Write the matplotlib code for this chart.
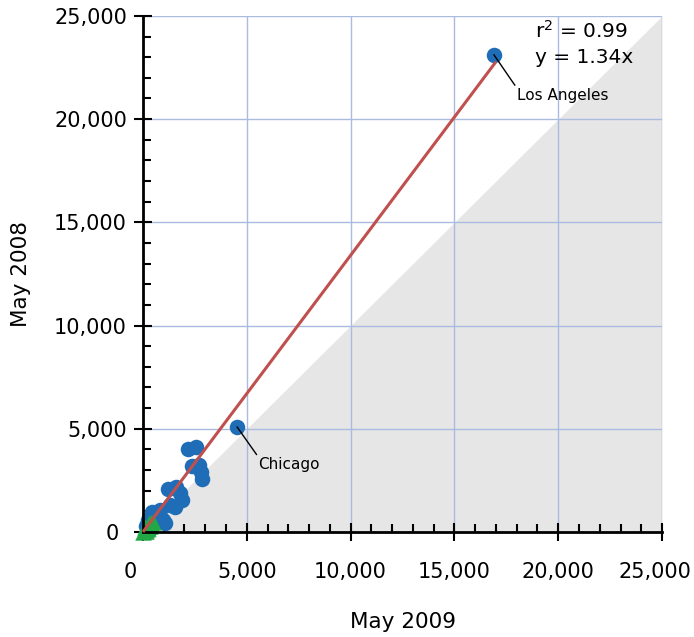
import numpy as np
import matplotlib as mpl
mpl.use('Agg')
from matplotlib import pyplot as plt
from matplotlib.ticker import FuncFormatter, MultipleLocator
import matplotlib.transforms as mtransforms

plt.rcParams['font.family'] = ['DejaVu Sans']

# data (May 2009 vs May 2008)
blue_x = [16900, 4530, 2170, 2550, 2360, 2700, 2800, 2840, 1200, 1590, 1880, 1780,
          430, 820, 1300, 1540, 240, 720, 1060, 150, 600, 950, 350]
blue_y = [23120, 5090, 4030, 4120, 3200, 3250, 2900, 2570, 2080, 2180, 1550, 1890,
          970, 1070, 1310, 1210, 580, 680, 440, 300, 820, 560, 150]
green_x = [0, 80, 150, 250, 320, 400, 480, 200, 120, 350, 60, 280]
green_y = [0, 100, 60, 200, 330, 420, 480, 120, 240, 300, 40, 430]
slope = 1.34
r2 = 0.99
fit_end = 17000
labels = {'Los Angeles': (16900, 23120), 'Chicago': (4530, 5090)}

fig = plt.figure(figsize=(6.94, 6.37), dpi=100)
ax = fig.add_axes([0.206, 0.165, 0.748, 0.810])

# gray area below y = x
ax.fill_between([0, 25000], [0, 25000], 0, color='#e6e6e6', lw=0, zorder=0.2)

ax.scatter(blue_x, blue_y, marker='o', s=125, color='#1f6db6', lw=0, zorder=2, clip_on=False)
ax.scatter(green_x, green_y, marker='^', s=140, color='#22a845', lw=0, zorder=2.5, clip_on=False)
ax.plot([0, fit_end], [0, slope * fit_end], color='#c0504d', lw=2.2, zorder=3,
        solid_capstyle='butt', clip_on=False)

for name, off in [('Los Angeles', (16.5, -24)), ('Chicago', (15.5, -22))]:
    ax.annotate(name, xy=labels[name], xytext=off, textcoords='offset points',
                fontsize=11, ha='left', va='top',
                arrowprops=dict(arrowstyle='-', color='black', lw=1, shrinkA=0, shrinkB=0, relpos=(0, 1)))

ax.text(0.755, 0.971, 'r$^2$ = {0:.2f}'.format(r2), transform=ax.transAxes, fontsize=14.5, va='center')
ax.text(0.755, 0.920, 'y = {0:.2f}x'.format(slope), transform=ax.transAxes, fontsize=14.5, va='center')

ax.set_xlim(0, 25000)
ax.set_ylim(0, 25000)
ax.xaxis.set_major_locator(MultipleLocator(5000))
ax.yaxis.set_major_locator(MultipleLocator(5000))
ax.xaxis.set_minor_locator(MultipleLocator(1000))
ax.yaxis.set_minor_locator(MultipleLocator(1000))
fmt = FuncFormatter(lambda v, p: '{0:,.0f}'.format(v))
ax.xaxis.set_major_formatter(fmt)
ax.yaxis.set_major_formatter(fmt)

ax.set_axisbelow(True)
ax.grid(True, which='major', color='#aabbe0', lw=1)
for s in ['top', 'right']:
    ax.spines[s].set_visible(False)
for s in ['left', 'bottom']:
    ax.spines[s].set_linewidth(2)
    ax.spines[s].set_color('black')

ax.tick_params(axis='both', which='major', direction='inout', length=13, width=1.5, labelsize=15)
ax.tick_params(axis='both', which='minor', direction='in', length=6, width=1.5)
ax.tick_params(axis='x', which='major', pad=15)
ax.tick_params(axis='y', which='major', pad=5)

ax.set_xlabel('May 2009', fontsize=15.5, labelpad=22)
ax.set_ylabel('May 2008', fontsize=15.5, labelpad=17)

# shift a few tick labels left (zeros and the last x label), in pixels
fig.canvas.draw()
def nudge(lab, dx):
    lab.set_transform(lab.get_transform() + mtransforms.ScaledTranslation(dx / 100, 0, fig.dpi_scale_trans))
for lab in ax.get_xticklabels():
    if lab.get_text() == '0':
        nudge(lab, -13)
    elif lab.get_text() == '25,000':
        nudge(lab, -7)
for lab in ax.get_yticklabels():
    if lab.get_text() == '0':
        nudge(lab, -8)

plt.savefig('out.png', dpi=100)
